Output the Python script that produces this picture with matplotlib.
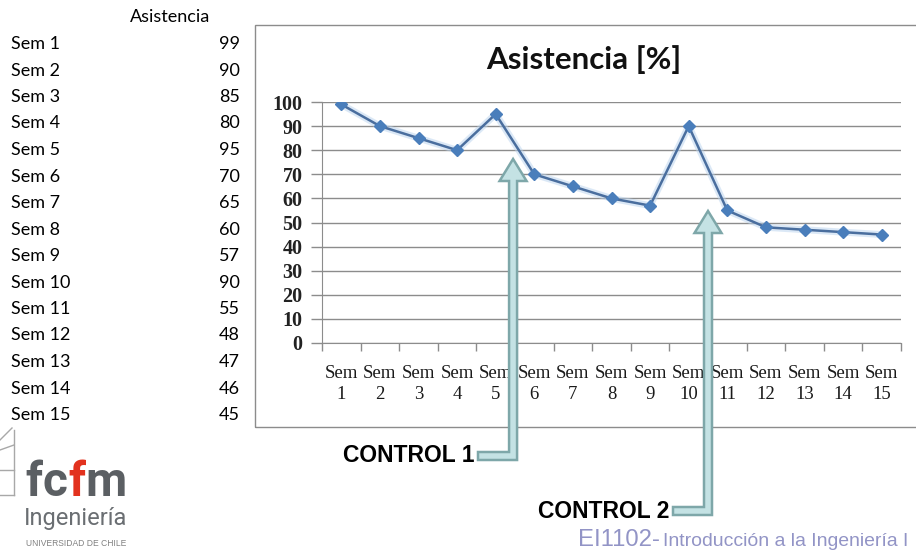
import matplotlib
matplotlib.use("Agg")
import matplotlib.pyplot as plt
from matplotlib.patches import Polygon, Rectangle
from matplotlib.lines import Line2D

# Weekly attendance data
semanas = ["Sem 1", "Sem 2", "Sem 3", "Sem 4", "Sem 5", "Sem 6", "Sem 7", "Sem 8",
           "Sem 9", "Sem 10", "Sem 11", "Sem 12", "Sem 13", "Sem 14", "Sem 15"]
asistencia = [99, 90, 85, 80, 95, 70, 65, 60, 57, 90, 55, 48, 47, 46, 45]
y_ticks = [0, 10, 20, 30, 40, 50, 60, 70, 80, 90, 100]
controles = ["CONTROL 1", "CONTROL 2"]
control_pos = [4.45, 9.5]   # between the weeks where each test took place

W, H = 916, 553
fig = plt.figure(figsize=(W / 100, H / 100), dpi=100)
fig.patch.set_facecolor("white")
renderer = fig.canvas.get_renderer()


def fx(px):
    return px / W


def fy(py):
    return 1 - py / H


def fit_width(txt, width_px):
    """Rescale a text so that it spans the given width in pixels."""
    bb = txt.get_window_extent(renderer)
    txt.set_fontsize(txt.get_fontsize() * width_px / bb.width)
    return txt


# ---- spreadsheet table on the left ----
tab_font = dict(family=["Lato", "DejaVu Sans"], fontsize=13, color="black")
fig.text(fx(170), fy(17), "Asistencia", ha="center", va="center", **tab_font)
for i, (s, v) in enumerate(zip(semanas, asistencia)):
    yy = 44 + 26.5 * i
    fig.text(fx(11), fy(yy), s, ha="left", va="center", **tab_font)
    fig.text(fx(240), fy(yy), str(v), ha="right", va="center", **tab_font)

# ---- chart frame ----
fig.add_artist(Rectangle((fx(255), fy(427)), fx(680), fy(25) - fy(427),
                         transform=fig.transFigure, fill=False,
                         edgecolor="#8c8c8c", lw=1.0, clip_on=False))

title = fig.text(fx(584), fy(60), "Asistencia [%]", ha="center", va="center",
                 family=["Lato", "DejaVu Sans"], fontweight="bold", fontsize=20,
                 color="#111111")
fit_width(title, 195)

# ---- plot area ----
ax = fig.add_axes([fx(322), fy(343), fx(901) - fx(322), fy(102) - fy(343)])
ax.set_xlim(-0.5, len(semanas) - 0.5)
ax.set_ylim(0, 100)
for sp in ["top", "right"]:
    ax.spines[sp].set_visible(False)
ax.spines["left"].set_color("#8c8c8c")
ax.spines["bottom"].set_color("#8c8c8c")
ax.set_yticks(y_ticks)
ax.yaxis.grid(True, color="#8c8c8c", lw=1.0)
ax.set_axisbelow(True)
serif = ["Liberation Serif", "DejaVu Serif"]
ax.set_yticklabels([str(t) for t in y_ticks], fontsize=14.5, color="#222222",
                   family=serif, fontweight="bold")
ax.tick_params(axis="y", length=8, width=1, color="#8c8c8c", pad=6)

# category boundary ticks on the x axis
ax.set_xticks([i - 0.5 for i in range(len(semanas) + 1)])
ax.set_xticklabels([])
ax.tick_params(axis="x", length=6, width=1, color="#8c8c8c", direction="out")
for i, s in enumerate(semanas):
    a, b = s.split()
    ax.text(i, -12.5, a, ha="center", va="center", fontsize=13.5,
            color="#1a1a1a", family=serif)
    ax.text(i, -21.5, b, ha="center", va="center", fontsize=13.5,
            color="#1a1a1a", family=serif)

ax.plot(range(len(asistencia)), asistencia, color="#b9d3ee", lw=5, alpha=0.5,
        solid_capstyle="round", zorder=3)
ax.plot(range(len(asistencia)), asistencia, color="#4a6e9e", lw=1.8,
        marker="D", markersize=6.5, markerfacecolor="#4a7ebb",
        markeredgecolor="#4a7ebb", zorder=4)

fig.canvas.draw()

# ---- elbow arrows pointing at the attendance peaks ----
arrow_geom = [  # (tip y, bottom y, left end x)
    (159, 460, 478),
    (211, 515, 673),
]
for xc, (tip, bot, left), lab in zip(control_pos, arrow_geom, controles):
    cx = ax.transData.transform((xc, 0))[0]
    hw, sw, hl, bw = 13.5, 4.0, 22, 8
    pts = [(cx, tip), (cx + hw, tip + hl), (cx + sw, tip + hl), (cx + sw, bot),
           (left, bot), (left, bot - bw), (cx - sw, bot - bw),
           (cx - sw, tip + hl), (cx - hw, tip + hl)]
    poly = Polygon([(fx(x), fy(y)) for x, y in pts], closed=True,
                   transform=fig.transFigure, facecolor="#c4e2e4",
                   edgecolor="#7ea7a9", lw=1.8, zorder=10, clip_on=False)
    fig.add_artist(poly)
    fig.text(fx(left - 4), fy(bot - bw / 2), lab, ha="right", va="center",
             family=["Liberation Sans", "DejaVu Sans"], fontweight="bold",
             fontsize=16.5, color="black")

# ---- footer ----
foot_col = "#9294c6"
foot_font = ["Liberation Sans Narrow", "Liberation Sans", "DejaVu Sans"]
t1 = fig.text(fx(578), fy(540), "EI1102-", ha="left", va="center",
              family=foot_font, fontsize=14, color=foot_col)
fit_width(t1, 82)
t2 = fig.text(fx(663), fy(541), "Introducción a la Ingeniería I", ha="left",
              va="center", family=foot_font, fontsize=13, color=foot_col)
fit_width(t2, 244)

# ---- faculty logo ----
logo_gray = "#5b5f63"
letters = [("f", logo_gray), ("c", logo_gray), ("f", "#e2321e"), ("m", logo_gray)]
logo_texts = [fig.text(0, fy(496), ch, color=col, va="baseline", ha="left",
                       family=["Roboto", "DejaVu Sans"], fontweight="bold",
                       fontsize=40) for ch, col in letters]
widths = [t.get_window_extent(renderer).width for t in logo_texts]
scale = 100 / sum(widths)
xpos = 25
for t, w in zip(logo_texts, widths):
    t.set_fontsize(40 * scale)
    t.set_x(fx(xpos))
    xpos += w * scale + 0.6
fig.text(fx(76), fy(519), "Ingeniería", ha="center", va="center",
         family=["Roboto", "DejaVu Sans"], fontsize=17, color="#6a6e72")
uni = fig.text(fx(76), fy(544), "UNIVERSIDAD DE CHILE", ha="center", va="center",
               family=["Liberation Sans", "DejaVu Sans"], fontsize=6, color="#808080")
fit_width(uni, 100)
# crest outline at the left edge
for x0, y0, x1, y1 in [(14, 430, 14, 495), (0, 470, 14, 470), (0, 495, 14, 495),
                       (0, 440, 12, 428), (0, 450, 14, 445)]:
    fig.add_artist(Line2D([fx(x0), fx(x1)], [fy(y0), fy(y1)],
                          transform=fig.transFigure, color="#a8a8a8", lw=1))

fig.savefig("out.png", dpi=100, facecolor="white")
